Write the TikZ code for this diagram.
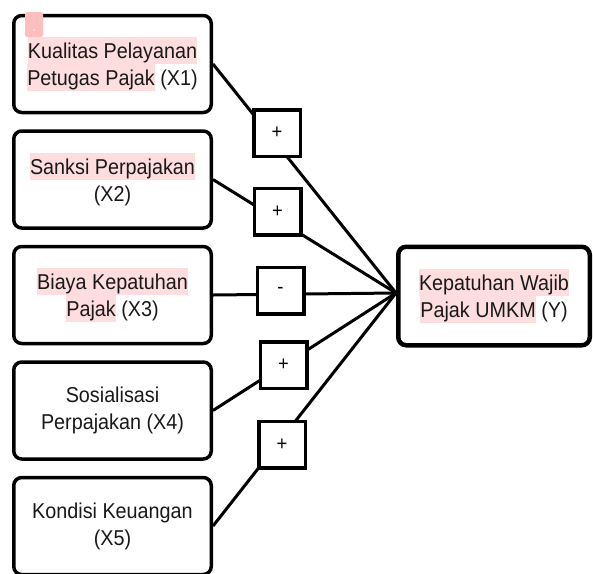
\documentclass[tikz,border=0pt]{standalone}
\usepackage{fontspec}
\setmainfont{Liberation Sans}[FakeStretch=0.92]
\usetikzlibrary{positioning}

\definecolor{hlpink}{RGB}{253,221,221}
\definecolor{notepink}{RGB}{255,190,190}
\newcommand{\hlt}[1]{{\setlength{\fboxsep}{0pt}\colorbox{hlpink}{\rule[-5.5pt]{0pt}{27pt}#1}}}

\tikzstyle{factor}=[draw,fill=white,rectangle,rounded corners=8pt,line width=3.5pt,minimum width=197.5pt,minimum height=97pt,inner sep=0pt,align=center,text=black!90,font=\fontsize{21.5}{27}\selectfont]
\tikzstyle{outcome}=[factor,line width=4.5pt,minimum width=191.5pt,minimum height=98.5pt]
\tikzstyle{sign}=[draw,fill=white,rectangle,line width=3.5pt,minimum size=46.5pt,inner sep=0pt,font=\fontsize{20}{24}\selectfont]
\tikzstyle{link}=[line width=3pt]

\begin{document}
\begin{tikzpicture}[node distance=15pt]
    \useasboundingbox (0,0) rectangle (593pt,-573pt);
    \node [factor] (x1) at (112.5pt,-64pt) {\hlt{Kualitas Pelayanan}\\\hlt{Petugas Pajak} (X1)};
    \node [factor,below=of x1] (x2) {\hlt{Sanksi Perpajakan}\\(X2)};
    \node [factor,below=of x2] (x3) {\hlt{Biaya Kepatuhan}\\\hlt{Pajak} (X3)};
    \node [factor,below=of x3] (x4) {Sosialisasi\\Perpajakan (X4)};
    \node [factor,below=of x4] (x5) {Kondisi Keuangan\\(X5)};
    \node [outcome] (y) at (494pt,-296pt) {\hlt{Kepatuhan Wajib}\\\hlt{Pajak UMKM} (Y)};
    \coordinate (hub) at ([yshift=3pt]y.west);

    \foreach \i in {1,...,5}
      \draw [link] (x\i.east) -- (hub);

    \node [sign] (s1) at (277pt,-133pt) {+};
    \node [sign] (s2) at (277.5pt,-211.5pt) {+};
    \node [sign] (s3) at (280.5pt,-290.5pt) {-};
    \node [sign] (s4) at (283.5pt,-365pt) {+};
    \node [sign] (s5) at (282pt,-444.5pt) {+};

    \fill [notepink,rounded corners=2.5pt] (25pt,-12pt) rectangle (43pt,-37pt);
    \fill [white] (34pt,-30pt) circle (0.8pt);
\end{tikzpicture}
\end{document}
